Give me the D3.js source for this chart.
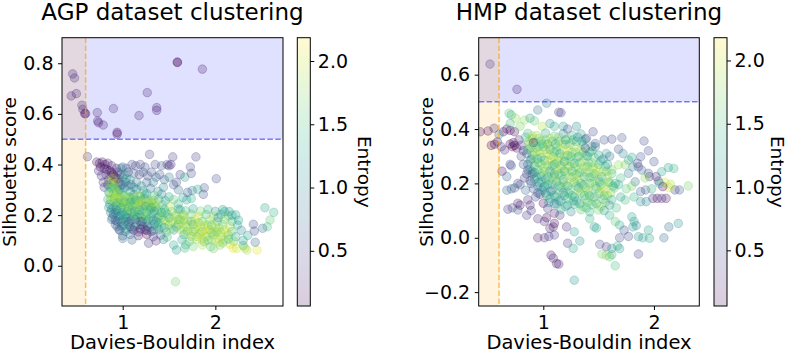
<!DOCTYPE html>
<html>
<head>
<meta charset="utf-8">
<script src="https://cdn.jsdelivr.net/npm/d3@7"></script>
<style>
  body { margin: 0; background: #fff; }
  svg { display: block; }
  text { font-family: "DejaVu Sans", sans-serif; fill: #000; }
</style>
</head>
<body>
<svg id="chart" width="789" height="353"></svg>
<script>
// each point: [Davies-Bouldin index, silhouette score, entropy]
const agpPoints = [
  // above the 0.5 silhouette line
  [1.59,0.803,0.07],[1.59,0.805,0.1],[1.86,0.777,0.25],[0.46,0.758,0.3],[0.48,0.742,0.35],[0.50,0.68,0.3],
  [0.445,0.671,0.25],[1.265,0.684,0.3],[0.56,0.634,0.35],[0.57,0.618,0.3],[0.59,0.601,0.05],[0.60,0.601,0.1],
  [0.726,0.605,0.3],[0.90,0.621,0.35],[0.73,0.572,0.3],[0.74,0.565,0.25],[0.79,0.556,0.3],[1.176,0.593,0.3],
  [1.367,0.625,0.3],[1.367,0.614,0.25],[0.94,0.527,0.1],[0.94,0.52,0.15],
  // dark arm, upper left
  [0.62,0.431,0.4],[0.72,0.41,0.15],[0.75,0.405,0.2],[0.78,0.41,0.12],[0.81,0.40,0.18],[0.84,0.405,0.25],
  [0.76,0.39,0.1],[0.80,0.385,0.15],[0.83,0.38,0.1],[0.86,0.375,0.2],[0.88,0.37,0.12],[0.90,0.36,0.1],
  [0.92,0.35,0.15],[0.94,0.345,0.1],[0.87,0.355,0.3],[0.85,0.34,0.35],[0.90,0.33,0.2],[0.96,0.33,0.12],
  [0.98,0.32,0.3],[0.82,0.36,0.4],[0.79,0.33,0.5],[0.95,0.37,0.2],[0.88,0.395,0.3],[0.93,0.385,0.25],
  [0.74,0.375,0.35],[0.77,0.355,0.3],[0.80,0.31,0.45],[0.84,0.32,0.2],
  // scattered top of the mass
  [1.00,0.39,0.75],[1.04,0.385,0.6],[1.10,0.40,0.5],[1.14,0.395,0.45],[1.19,0.40,0.55],[1.24,0.39,0.5],
  [1.29,0.44,0.45],[1.35,0.40,0.5],[1.42,0.395,0.6],[1.48,0.40,0.55],[1.50,0.395,0.3],[1.52,0.40,0.35],
  [1.54,0.43,0.45],[1.58,0.33,0.5],[1.62,0.36,0.45],[1.67,0.35,1.25],[1.73,0.39,0.5],[1.74,0.365,0.5],
  [1.79,0.43,0.45],[2.01,0.344,0.5],[1.88,0.308,0.55],[1.81,0.302,1.3],[1.75,0.297,0.9],[1.87,0.282,0.6],
  [1.06,0.37,0.5],[1.12,0.365,0.65],[1.18,0.36,0.4],[1.22,0.37,0.7],[1.27,0.355,0.5],[1.31,0.37,0.6],
  [1.36,0.35,0.8],[1.40,0.36,0.55],[1.45,0.34,0.7],[1.50,0.35,0.9],[1.55,0.32,0.6],[1.33,0.33,0.9],
  [1.26,0.33,0.7],[1.44,0.31,1.0],[1.60,0.30,0.8],[1.65,0.27,1.2],[1.69,0.26,1.3],[1.74,0.266,1.35],
  [1.70,0.29,0.6],
  // dense core
  [0.88,0.305,1.7],[0.95,0.296,1.0],[1.02,0.308,0.7],[1.08,0.293,1.2],[1.15,0.302,0.9],[1.22,0.297,1.4],
  [1.30,0.306,0.8],[1.38,0.294,1.1],
  [0.86,0.284,1.9],[0.92,0.276,1.6],[0.99,0.287,1.3],[1.05,0.274,1.8],[1.12,0.281,1.1],[1.19,0.273,1.5],
  [1.26,0.285,1.2],[1.34,0.277,1.6],[1.42,0.283,1.0],[1.50,0.272,1.3],
  [0.84,0.262,1.4],[0.90,0.255,2.0],[0.97,0.266,1.7],[1.03,0.253,1.2],[1.10,0.261,1.9],[1.17,0.256,1.6],
  [1.24,0.264,1.0],[1.31,0.252,1.8],[1.39,0.263,1.4],[1.46,0.257,1.2],[1.55,0.262,1.6],
  [0.86,0.243,1.1],[0.93,0.236,1.5],[1.00,0.245,1.9],[1.07,0.234,1.4],[1.14,0.242,2.0],[1.21,0.237,1.3],
  [1.28,0.246,1.7],[1.35,0.233,1.2],[1.43,0.241,1.5],[1.51,0.235,1.9],[1.60,0.244,1.4],
  [0.88,0.224,0.9],[0.95,0.216,1.3],[1.02,0.226,1.6],[1.09,0.213,1.0],[1.16,0.222,1.5],[1.23,0.215,1.9],
  [1.30,0.225,1.4],[1.37,0.217,1.6],[1.45,0.223,1.3],[1.53,0.214,1.7],[1.62,0.221,1.2],
  [0.90,0.203,0.7],[0.97,0.196,1.2],[1.04,0.205,1.5],[1.11,0.194,1.1],[1.18,0.202,1.3],[1.25,0.195,1.6],
  [1.32,0.206,1.2],[1.40,0.197,1.8],[1.48,0.204,1.5],[1.56,0.193,1.9],[1.65,0.201,1.7],
  [0.88,0.183,0.8],[0.94,0.176,0.6],[1.00,0.185,1.4],[1.07,0.174,0.4],[1.14,0.182,1.0],[1.21,0.175,0.2],
  [1.28,0.184,1.4],[1.36,0.177,1.0],[1.44,0.181,1.7],[1.52,0.173,2.0],[1.60,0.183,1.6],
  [0.92,0.163,0.7],[0.99,0.156,0.9],[1.06,0.165,1.3],[1.13,0.154,0.3],[1.20,0.162,0.9],[1.27,0.157,0.5],
  [1.34,0.164,1.2],[1.42,0.155,1.5],[1.50,0.161,1.8],[1.58,0.153,1.4],
  [0.96,0.143,0.7],[1.03,0.136,1.0],[1.10,0.145,0.5],[1.17,0.134,0.6],[1.24,0.142,0.1],[1.31,0.135,0.9],
  [1.39,0.144,1.2],[1.47,0.133,1.6],[1.55,0.141,1.1],
  [1.00,0.118,0.7],[1.08,0.124,0.8],[1.17,0.119,0.2],[1.26,0.124,0.08],[1.33,0.115,0.4],[1.41,0.121,0.6],
  [1.48,0.113,1.5],
  [1.00,0.108,0.8],[1.10,0.102,0.7],[1.28,0.089,0.4],[1.36,0.098,0.3],[1.44,0.104,1.0],[1.55,0.082,1.3],
  [1.58,0.062,1.2],
  [0.91,0.31,2.0],[0.93,0.29,1.9],[0.89,0.32,1.2],[0.98,0.385,0.9],[1.02,0.36,1.1],[1.08,0.34,1.2],
  [1.15,0.33,0.8],[1.20,0.315,1.0],[0.96,0.27,1.8],[1.01,0.25,1.4],[1.06,0.23,1.7],[0.92,0.21,1.0],
  [0.98,0.23,1.3],[1.12,0.25,1.6],[1.18,0.22,1.2],[1.26,0.21,1.5],[1.33,0.24,1.9],[1.38,0.19,1.4],
  [1.46,0.21,1.6],[1.04,0.19,1.0],[0.87,0.26,1.6],[0.94,0.25,1.1],[1.08,0.27,1.5],[1.24,0.28,1.3],
  [1.14,0.20,1.8],[1.20,0.19,1.1],
  [0.86,0.33,1.8],[0.89,0.345,2.0],[0.92,0.325,1.9],[0.87,0.31,1.5],[0.90,0.29,1.8],[0.94,0.31,1.6],
  [0.97,0.30,1.2],[1.00,0.32,0.9],[1.03,0.33,0.8],[1.06,0.315,1.0],[1.09,0.32,0.7],[1.12,0.31,1.1],
  [1.04,0.345,0.9],[1.00,0.35,1.2],[0.97,0.36,0.6],
  [0.85,0.29,1.3],[0.88,0.27,2.0],[0.91,0.265,1.7],[0.94,0.28,1.9],[0.97,0.25,1.5],[0.99,0.265,2.0],
  [1.02,0.275,1.6],[1.05,0.26,1.9],[1.08,0.25,1.3],[1.11,0.27,1.7],[1.14,0.26,1.2],[1.17,0.275,1.9],
  [1.20,0.26,1.4],[1.23,0.25,2.0],[1.27,0.26,1.8],[1.30,0.245,2.0],[1.33,0.26,1.5],[1.36,0.25,1.9],
  [0.85,0.23,1.2],[0.87,0.21,0.9],[0.90,0.23,1.4],[0.93,0.22,0.8],[0.96,0.24,1.7],[0.99,0.21,1.1],
  [1.02,0.235,1.8],[1.05,0.215,1.3],[1.08,0.225,1.9],[1.11,0.235,1.5],[1.13,0.215,1.2],[1.16,0.235,1.8],
  [1.19,0.245,2.0],[1.22,0.225,1.5],[1.25,0.235,1.2],[1.28,0.22,1.7],[1.31,0.23,1.4],[1.34,0.215,1.1],
  [1.39,0.225,1.7],[1.42,0.21,1.3],
  [0.89,0.19,0.9],[0.92,0.18,0.5],[0.95,0.195,1.0],[0.98,0.175,0.8],[1.01,0.20,1.2],[1.03,0.175,0.9],
  [1.06,0.19,1.4],[1.09,0.18,0.6],[1.12,0.20,1.6],[1.16,0.19,1.2],[1.19,0.175,0.4],[1.23,0.19,1.7],
  [1.26,0.175,1.3],[1.30,0.19,1.5],[1.33,0.18,0.9],[1.38,0.17,1.3],[1.42,0.19,1.6],[1.46,0.175,1.9],
  [1.50,0.19,1.4],[1.54,0.175,1.8],
  [0.94,0.155,0.8],[0.97,0.14,0.6],[1.01,0.16,0.9],[1.04,0.145,1.2],[1.08,0.155,0.7],[1.12,0.14,0.4],
  [1.15,0.16,1.1],[1.19,0.145,0.2],[1.22,0.155,0.6],[1.26,0.14,0.15],[1.29,0.15,1.0],[1.33,0.14,0.5],
  [1.37,0.155,1.4],[1.45,0.15,1.2],[1.52,0.145,1.7],
  // right tail
  [1.60,0.224,1.3],[1.68,0.217,1.5],[1.76,0.225,1.2],[1.84,0.216,1.7],[1.92,0.223,1.4],[2.00,0.215,1.1],
  [2.08,0.222,1.3],[2.15,0.214,1.2],
  [1.58,0.203,1.8],[1.66,0.196,2.0],[1.74,0.204,1.6],[1.82,0.195,1.9],[1.90,0.202,1.5],[1.98,0.194,1.8],
  [2.06,0.203,1.4],[2.14,0.196,1.6],[2.22,0.201,1.3],
  [1.62,0.183,1.7],[1.70,0.176,1.9],[1.78,0.184,2.1],[1.86,0.175,1.6],[1.94,0.182,1.9],[2.02,0.174,1.5],
  [2.10,0.183,1.8],[2.18,0.176,1.4],[2.25,0.18,1.2],
  [1.60,0.163,1.5],[1.68,0.156,1.8],[1.76,0.164,1.4],[1.84,0.155,2.0],[1.92,0.162,1.7],[2.00,0.154,2.1],
  [2.08,0.163,1.6],[2.16,0.155,1.9],[2.24,0.161,1.3],
  [1.62,0.143,1.9],[1.70,0.136,1.6],[1.78,0.144,1.8],[1.86,0.135,1.5],[1.94,0.142,1.9],[2.02,0.134,1.7],
  [2.10,0.143,2.0],[2.18,0.135,1.5],[2.28,0.14,1.0],
  [1.66,0.123,1.4],[1.74,0.116,1.7],[1.82,0.124,2.0],[1.90,0.115,1.8],[1.98,0.122,1.6],[2.06,0.114,1.9],
  [2.14,0.121,1.7],[2.22,0.115,1.4],
  [1.64,0.103,1.3],[1.72,0.096,1.6],[1.80,0.104,1.9],[1.88,0.095,1.5],[1.96,0.102,1.8],[2.04,0.094,2.0],
  [2.10,0.102,1.9],[2.20,0.097,1.6],
  [1.68,0.083,1.5],[1.76,0.076,1.7],[1.86,0.082,1.9],[1.95,0.075,1.6],[2.05,0.081,1.8],[2.16,0.085,2.0],
  [2.30,0.08,1.3],
  [1.67,0.07,1.4],[1.98,0.068,1.7],[2.19,0.069,2.1],[2.23,0.069,2.0],[2.34,0.062,1.9],[2.45,0.062,2.1],
  [2.535,0.229,1.3],[2.63,0.211,1.4],[2.59,0.181,1.6],[2.56,0.154,1.5],[2.41,0.164,0.6],[2.42,0.137,0.5],
  [2.51,0.148,0.8],[2.43,0.093,0.8],[2.32,0.07,1.9],[2.30,0.10,1.2],[2.35,0.12,1.3],[2.10,0.214,1.2],
  [2.18,0.20,1.2],[2.03,0.19,1.1],
  [1.62,0.17,2.0],[1.66,0.18,1.7],[1.70,0.16,1.9],[1.74,0.175,1.5],[1.78,0.155,2.0],[1.82,0.17,1.8],
  [1.88,0.16,1.9],[1.92,0.145,2.1],[1.96,0.16,1.6],[2.00,0.135,1.9],[2.04,0.15,1.8],[1.66,0.14,1.8],
  [1.72,0.125,2.0],[1.76,0.135,1.7],[1.84,0.13,1.9],[1.90,0.13,2.0],[1.96,0.13,1.7],[2.06,0.13,1.8],
  [2.12,0.13,2.0],[1.80,0.115,1.8],[1.86,0.105,2.0],[1.92,0.10,1.7],[2.00,0.105,1.9],[2.08,0.09,1.7],
  [2.14,0.105,1.5],
  // lone point below zero
  [1.57,-0.063,1.7]
];

const hmpPoints = [
  // above the 0.5 silhouette line
  [0.518,0.639,0.4],[0.762,0.546,0.3],[1.03,0.495,0.9],
  // dark cluster near the left
  [0.43,0.39,0.15],[0.50,0.393,0.1],[0.555,0.403,0.3],[0.56,0.344,0.15],[0.585,0.353,0.2],[0.53,0.34,0.1],
  [0.627,0.245,0.1],[0.64,0.39,0.1],[0.67,0.40,0.2],[0.70,0.395,0.15],[0.74,0.39,0.1],[0.70,0.345,0.05],
  [0.72,0.335,0.05],[0.74,0.34,0.05],[0.76,0.33,0.1],[0.73,0.35,0.1],[0.65,0.323,0.3],[0.62,0.335,0.4],
  [0.60,0.38,0.8],[0.78,0.36,0.3],[0.80,0.34,0.4],[0.82,0.32,0.3],
  // upper light points
  [0.69,0.458,1.6],[0.71,0.452,1.4],[0.79,0.41,1.7],[0.83,0.433,1.8],[0.75,0.44,1.8],[0.70,0.42,1.5],
  [0.88,0.44,1.2],[0.95,0.47,0.8],[1.14,0.462,0.5],[1.16,0.46,0.4],[1.06,0.42,1.1],[1.10,0.41,1.3],
  [1.18,0.41,1.2],[0.92,0.43,1.6],[0.99,0.41,1.9],
  // purple spread below the core
  [0.70,0.27,0.5],[0.71,0.265,0.6],[0.67,0.225,0.7],[0.77,0.20,0.5],[0.79,0.195,0.6],[0.67,0.175,0.7],
  [0.71,0.18,0.8],[0.74,0.183,0.6],[0.68,0.105,0.4],[0.72,0.11,0.5],[0.77,0.102,0.6],[0.77,0.127,0.3],
  [0.79,0.12,0.2],[0.86,0.14,0.3],[0.88,0.12,0.25],[0.89,0.10,0.4],[0.85,0.083,0.4],[0.95,0.0,0.2],
  [1.0,0.127,0.05],[1.03,0.074,0.05],[1.01,0.0,0.3],[1.05,0.005,0.4],[1.10,0.01,0.4],[1.06,0.035,0.3],
  [1.09,0.04,0.3],[1.10,0.053,0.1],[1.07,-0.064,0.2],[1.09,-0.075,0.3],[1.12,-0.095,0.2],[1.14,-0.097,0.3],
  [1.21,0.04,0.3],[1.22,-0.02,0.4],[0.95,0.07,0.3],[1.01,0.06,0.3],[1.04,0.108,0.4],[1.10,0.09,0.2],
  [1.15,0.083,0.4],[0.83,0.22,0.4],[0.86,0.25,0.3],[0.88,0.21,0.5],[0.82,0.27,0.6],[0.91,0.18,0.6],
  [0.93,0.15,0.5],[0.97,0.16,0.3],[0.84,0.175,0.8],[0.90,0.235,0.2],[0.80,0.30,0.5],
  // dense core
  [0.86,0.384,1.5],[0.94,0.376,1.8],[1.02,0.385,1.3],[1.10,0.374,1.6],[1.18,0.383,1.0],[1.26,0.377,1.4],
  [1.34,0.382,1.2],
  [0.90,0.364,1.7],[0.98,0.356,1.4],[1.06,0.365,1.9],[1.14,0.355,1.5],[1.22,0.363,1.8],[1.30,0.354,1.3],
  [1.38,0.362,1.1],
  [0.88,0.344,1.9],[0.96,0.336,1.6],[1.04,0.345,1.2],[1.12,0.335,1.8],[1.20,0.343,1.4],[1.28,0.334,1.9],
  [1.36,0.342,1.5],[1.44,0.336,0.9],
  [0.86,0.324,1.3],[0.94,0.316,2.0],[1.02,0.325,1.7],[1.10,0.315,1.4],[1.18,0.323,1.9],[1.26,0.314,1.6],
  [1.34,0.322,1.8],[1.42,0.315,1.3],
  [0.90,0.304,1.6],[0.98,0.296,1.2],[1.06,0.305,1.8],[1.14,0.295,2.0],[1.22,0.303,1.5],[1.30,0.294,1.7],
  [1.38,0.302,1.4],[1.46,0.296,1.6],
  [0.88,0.284,1.1],[0.96,0.276,1.5],[1.04,0.285,1.9],[1.12,0.275,1.6],[1.20,0.283,1.8],[1.28,0.274,1.3],
  [1.36,0.282,2.0],[1.44,0.276,1.7],[1.52,0.283,1.3],
  [0.92,0.264,1.4],[1.00,0.256,1.7],[1.08,0.265,1.3],[1.16,0.255,1.9],[1.24,0.263,1.6],[1.32,0.254,1.8],
  [1.40,0.262,1.5],[1.48,0.255,1.9],[1.56,0.263,1.4],
  [0.90,0.244,1.2],[0.98,0.236,1.6],[1.06,0.245,1.0],[1.14,0.235,1.5],[1.22,0.243,1.9],[1.30,0.234,1.4],
  [1.38,0.242,1.7],[1.46,0.235,1.3],[1.54,0.243,1.8],[1.62,0.236,1.5],
  [0.94,0.224,1.3],[1.02,0.216,0.8],[1.10,0.225,1.7],[1.18,0.215,1.2],[1.26,0.223,1.6],[1.34,0.214,2.0],
  [1.42,0.222,1.5],[1.50,0.215,1.7],[1.58,0.223,1.9],
  [0.96,0.204,1.0],[1.04,0.196,1.4],[1.12,0.205,1.1],[1.20,0.195,1.8],[1.28,0.203,1.5],[1.36,0.194,1.3],
  [1.44,0.202,1.9],[1.52,0.195,1.6],[1.60,0.203,1.8],[1.68,0.196,1.2],
  [1.00,0.184,1.2],[1.08,0.176,0.7],[1.16,0.185,1.3],[1.24,0.175,1.6],[1.32,0.183,1.1],[1.40,0.174,1.8],
  [1.48,0.182,1.4],[1.56,0.175,2.0],[1.64,0.183,1.6],
  [1.02,0.164,1.0],[1.10,0.156,1.2],[1.18,0.165,0.9],[1.26,0.155,1.4],[1.34,0.163,1.7],[1.42,0.154,1.2],
  [1.50,0.162,1.5],[1.58,0.155,1.8],
  [1.06,0.144,1.3],[1.14,0.136,1.0],[1.22,0.145,1.5],[1.30,0.135,1.1],[1.38,0.143,1.6],[1.46,0.134,1.9],
  [1.54,0.142,1.4],
  [1.12,0.124,1.1],[1.20,0.115,1.4],[1.28,0.123,1.2],[1.36,0.114,1.7],[1.44,0.122,1.5],[1.52,0.115,1.8],
  [1.16,0.104,1.3],[1.25,0.096,1.0],[1.34,0.103,1.6],[1.42,0.095,1.4],[1.50,0.102,1.7],
  [0.84,0.37,1.4],[0.87,0.355,1.7],[0.90,0.375,1.9],[0.93,0.35,1.6],[0.96,0.365,1.8],[0.99,0.345,1.5],
  [1.02,0.36,1.7],[1.05,0.34,2.0],[1.08,0.355,1.6],[1.11,0.345,1.4],[1.14,0.37,1.7],[1.17,0.345,1.9],
  [1.20,0.36,1.2],[1.24,0.345,1.6],[1.27,0.36,1.4],[1.31,0.37,1.1],[1.35,0.355,1.3],[0.91,0.35,0.1],
  [0.85,0.31,0.7],[0.88,0.33,1.6],[0.91,0.315,1.8],[0.94,0.33,1.5],[0.97,0.31,1.9],[1.00,0.335,1.6],
  [1.03,0.31,2.0],[1.06,0.325,1.5],[1.09,0.30,1.8],[1.12,0.32,1.6],[1.15,0.31,1.3],[1.19,0.30,1.7],
  [1.22,0.32,2.0],[1.25,0.30,1.5],[1.29,0.315,1.8],[1.32,0.30,1.4],[1.36,0.315,1.6],[1.40,0.30,1.2],
  [1.44,0.32,1.5],
  [0.86,0.27,0.8],[0.89,0.29,1.0],[0.92,0.28,1.7],[0.95,0.29,1.4],[0.98,0.27,1.8],[1.01,0.285,1.5],
  [1.04,0.265,1.7],[1.07,0.28,2.0],[1.10,0.27,1.4],[1.13,0.285,1.8],[1.16,0.265,1.6],[1.19,0.28,1.3],
  [1.22,0.265,1.9],[1.25,0.28,1.6],[1.29,0.26,1.8],[1.33,0.275,1.5],[1.37,0.26,1.9],[1.41,0.275,1.6],
  [1.45,0.26,1.8],[1.50,0.27,1.5],
  [0.85,0.235,0.6],[0.88,0.25,1.2],[0.92,0.24,0.9],[0.95,0.25,1.6],[0.98,0.225,1.3],[1.01,0.245,1.8],
  [1.04,0.225,1.5],[1.07,0.24,1.7],[1.10,0.235,1.2],[1.13,0.25,1.9],[1.16,0.23,1.6],[1.19,0.245,1.4],
  [1.22,0.23,1.8],[1.26,0.245,1.5],[1.29,0.225,1.9],[1.33,0.24,1.6],[1.37,0.225,1.4],[1.41,0.24,1.8],
  [1.45,0.225,1.6],[1.49,0.24,2.0],[1.53,0.225,1.5],[1.57,0.245,1.7],
  [0.89,0.20,0.7],[0.92,0.215,1.1],[0.95,0.19,0.9],[0.98,0.205,1.4],[1.01,0.19,1.2],[1.05,0.21,1.6],
  [1.08,0.195,1.3],[1.11,0.21,1.8],[1.14,0.19,1.5],[1.18,0.205,1.7],[1.22,0.19,1.3],[1.26,0.205,1.9],
  [1.30,0.19,1.6],[1.34,0.20,1.4],[1.38,0.185,1.8],[1.42,0.20,1.5],[1.47,0.19,1.7],[1.51,0.205,1.3],
  [1.55,0.19,1.8],[1.59,0.205,1.6],[1.63,0.19,1.4],
  [0.95,0.165,0.8],[0.99,0.175,1.0],[1.03,0.155,1.3],[1.07,0.17,1.1],[1.11,0.15,1.4],[1.15,0.17,1.6],
  [1.19,0.155,1.2],[1.23,0.165,1.5],[1.28,0.15,1.3],[1.32,0.17,1.8],[1.37,0.155,1.5],[1.41,0.165,1.7],
  [1.46,0.15,1.4],[1.51,0.17,1.9],[1.55,0.155,1.6],[1.61,0.165,1.8],
  [1.05,0.13,1.1],[1.10,0.125,0.9],[1.16,0.135,1.3],[1.22,0.12,1.2],[1.27,0.135,1.5],[1.33,0.125,1.4],
  [1.40,0.13,1.6],[1.48,0.125,1.5],[1.56,0.13,1.7],[1.62,0.14,1.3],
  // right-hand spread
  [1.39,0.366,0.5],[1.47,0.347,0.6],[1.47,0.335,0.9],[1.62,0.363,0.5],[1.71,0.368,0.6],[1.91,0.356,0.5],
  [1.68,0.326,0.6],[1.57,0.31,1.3],[1.50,0.304,1.2],[1.88,0.298,0.6],[1.80,0.296,1.3],[1.77,0.286,1.2],
  [1.85,0.274,0.5],[1.86,0.261,0.4],[1.81,0.261,1.0],[1.68,0.268,1.8],[1.74,0.268,1.7],[2.13,0.258,1.2],
  [2.07,0.243,1.3],[1.89,0.249,0.7],[1.95,0.237,0.6],[1.96,0.225,0.5],[2.02,0.225,0.3],[2.04,0.209,0.4],
  [2.10,0.204,2.0],[2.15,0.197,1.9],[2.31,0.191,1.7],[1.92,0.22,1.8],[1.83,0.206,0.8],[1.77,0.237,0.9],
  [1.88,0.17,0.7],[1.925,0.176,0.6],[1.99,0.145,0.3],[2.03,0.145,0.2],[2.07,0.145,0.3],[2.11,0.145,0.2],
  [2.19,0.176,0.5],[2.23,0.176,0.6],[2.14,0.184,2.0],[2.08,0.188,0.1],[1.74,0.139,1.5],[1.88,0.133,1.1],
  [1.93,0.133,1.0],[2.22,0.053,1.1],[2.135,0.04,0.8],[2.09,0.0,0.8],[1.95,0.028,1.2],[1.96,-0.002,1.3],
  [1.90,0.0,1.2],[1.86,0.004,1.1],[1.80,0.077,1.3],[1.82,0.06,1.2],[1.84,0.045,1.0],[1.81,0.04,1.2],
  [1.69,0.0,0.5],[1.73,0.028,0.6],[1.77,0.005,0.5],[1.67,-0.03,1.4],[1.69,-0.04,1.2],[1.53,-0.06,1.7],
  [1.57,-0.065,1.8],[1.60,-0.07,1.6],[1.62,-0.062,1.5],[1.65,-0.103,1.5],[1.86,-0.06,0.4],[1.51,-0.024,0.5],
  [1.57,-0.033,0.4],[1.62,-0.039,1.1],[1.39,0.11,1.5],[1.42,0.07,1.4],[1.46,0.04,1.3],[1.48,0.036,1.2],
  [1.60,0.083,1.4],[1.65,0.06,1.6],[1.69,0.047,1.3],[1.28,0.022,1.2],[1.33,-0.012,1.1],[1.27,-0.039,1.3],
  [1.28,-0.156,1.1],[1.55,0.10,1.2],[1.60,0.12,1.1],[1.66,0.11,1.5],[1.70,0.15,1.2],[1.75,0.18,1.6],
  [1.80,0.19,1.7],[1.82,0.15,1.4],[1.70,0.22,1.5],[1.65,0.20,1.4],[1.62,0.25,1.7],[1.58,0.27,1.3],
  [1.54,0.29,1.0],[1.60,0.30,0.8],[2.00,0.28,0.6],[2.05,0.20,1.3],[1.98,0.18,1.4],[2.18,0.255,1.4],
  [1.95,0.32,0.5],[1.72,0.31,1.0],[1.45,0.39,0.5],[1.55,0.36,0.6],[1.30,0.41,1.0],[1.22,0.40,0.6],
  [1.38,0.33,0.5]
];

const xTicks = [1, 2];
const agpYTicks = [0.0, 0.2, 0.4, 0.6, 0.8];
const hmpYTicks = [-0.2, 0.0, 0.2, 0.4, 0.6];
const entropyTicks = [0.5, 1.0, 1.5, 2.0];
const silhouetteCut = 0.5;
const dbCut = 0.6;

const panels = [
  { id: "agp", title: "AGP dataset clustering", points: agpPoints, yTicks: agpYTicks,
    left: 62, right: 283, xDomain: [0.345, 2.73], yDomain: [-0.159, 0.901],
    cbLeft: 297.3, cDomain: [0.064, 2.184], entropyX: 358 },
  { id: "hmp", title: "HMP dataset clustering", points: hmpPoints, yTicks: hmpYTicks,
    left: 478.7, right: 699.3, xDomain: [0.416, 2.41], yDomain: [-0.251, 0.736],
    cbLeft: 714, cDomain: [0.06, 2.18], entropyX: 770.5 }
];

const plotTop = 37.7, plotBottom = 306, cbWidth = 13;
const pointAlpha = 0.26, barAlpha = 0.2;
const svg = d3.select("#chart");
const defs = svg.append("defs");

panels.forEach(p => {
  const x = d3.scaleLinear().domain(p.xDomain).range([p.left, p.right]);
  const y = d3.scaleLinear().domain(p.yDomain).range([plotBottom, plotTop]);
  const color = d3.scaleSequential(d3.interpolateViridis).domain(p.cDomain);

  defs.append("clipPath").attr("id", "clip-" + p.id)
    .append("rect")
    .attr("x", p.left).attr("y", plotTop)
    .attr("width", p.right - p.left).attr("height", plotBottom - plotTop);

  const g = svg.append("g").attr("clip-path", `url(#clip-${p.id})`);

  // shaded regions
  g.append("rect")
    .attr("x", p.left).attr("width", p.right - p.left)
    .attr("y", plotTop).attr("height", y(silhouetteCut) - plotTop)
    .attr("fill", "blue").attr("fill-opacity", 0.12);
  g.append("rect")
    .attr("x", p.left).attr("width", x(dbCut) - p.left)
    .attr("y", plotTop).attr("height", plotBottom - plotTop)
    .attr("fill", "orange").attr("fill-opacity", 0.12);

  // scatter
  g.append("g").selectAll("circle")
    .data(p.points)
    .join("circle")
    .attr("cx", d => x(d[0]))
    .attr("cy", d => y(d[1]))
    .attr("r", 4.3)
    .attr("fill", d => color(d[2]))
    .attr("fill-opacity", pointAlpha)
    .attr("stroke", d => color(d[2]))
    .attr("stroke-opacity", pointAlpha)
    .attr("stroke-width", 1);

  // threshold lines
  g.append("line")
    .attr("x1", p.left).attr("x2", p.right)
    .attr("y1", y(silhouetteCut)).attr("y2", y(silhouetteCut))
    .attr("stroke", "blue").attr("stroke-opacity", 0.5)
    .attr("stroke-width", 1.5).attr("stroke-dasharray", "5.5,2.4");
  g.append("line")
    .attr("x1", x(dbCut)).attr("x2", x(dbCut))
    .attr("y1", plotTop).attr("y2", plotBottom)
    .attr("stroke", "orange").attr("stroke-opacity", 0.7)
    .attr("stroke-width", 1.5).attr("stroke-dasharray", "5.5,2.4");

  // frame
  svg.append("rect")
    .attr("x", p.left).attr("y", plotTop)
    .attr("width", p.right - p.left).attr("height", plotBottom - plotTop)
    .attr("fill", "none").attr("stroke", "#000").attr("stroke-width", 1);

  // axes
  const xAxis = svg.append("g")
    .attr("transform", `translate(0,${plotBottom})`)
    .call(d3.axisBottom(x).tickValues(xTicks).tickFormat(d3.format("d")).tickSize(4).tickPadding(5.5));
  const yAxis = svg.append("g")
    .attr("transform", `translate(${p.left},0)`)
    .call(d3.axisLeft(y).tickValues(p.yTicks).tickFormat(d3.format(".1f")).tickSize(4).tickPadding(4.5));
  [xAxis, yAxis].forEach(a => {
    a.select(".domain").remove();
    a.selectAll("text").attr("font-size", 19).attr("font-family", "DejaVu Sans");
    a.selectAll("line").attr("stroke", "#000");
  });

  // labels
  svg.append("text")
    .attr("x", (p.left + p.right) / 2).attr("y", 19.5)
    .attr("text-anchor", "middle").attr("font-size", 23)
    .text(p.title);
  svg.append("text")
    .attr("x", (p.left + p.right) / 2).attr("y", 349)
    .attr("text-anchor", "middle").attr("font-size", 19.5)
    .text("Davies-Bouldin index");
  svg.append("text")
    .attr("transform", `translate(${p.left - 46},${(plotTop + plotBottom) / 2}) rotate(-90)`)
    .attr("text-anchor", "middle").attr("font-size", 18.5)
    .text("Silhouette score");

  // colorbar
  const grad = defs.append("linearGradient").attr("id", "grad-" + p.id)
    .attr("x1", 0).attr("y1", 1).attr("x2", 0).attr("y2", 0);
  d3.range(0, 1.0001, 0.05).forEach(t => {
    grad.append("stop").attr("offset", t)
      .attr("stop-color", d3.interpolateViridis(t))
      .attr("stop-opacity", barAlpha);
  });
  svg.append("rect")
    .attr("x", p.cbLeft).attr("y", plotTop)
    .attr("width", cbWidth).attr("height", plotBottom - plotTop)
    .attr("fill", `url(#grad-${p.id})`)
    .attr("stroke", "#000").attr("stroke-width", 1);
  const c = d3.scaleLinear().domain(p.cDomain).range([plotBottom, plotTop]);
  const cAxis = svg.append("g")
    .attr("transform", `translate(${p.cbLeft + cbWidth},0)`)
    .call(d3.axisRight(c).tickValues(entropyTicks).tickFormat(d3.format(".1f")).tickSize(4).tickPadding(3.5));
  cAxis.select(".domain").remove();
  cAxis.selectAll("text").attr("font-size", 19).attr("font-family", "DejaVu Sans");
  cAxis.selectAll("line").attr("stroke", "#000");
  svg.append("text")
    .attr("transform", `translate(${p.entropyX},${(plotTop + plotBottom) / 2}) rotate(90)`)
    .attr("text-anchor", "middle").attr("font-size", 18.5)
    .text("Entropy");
});
</script>
</body>
</html>
